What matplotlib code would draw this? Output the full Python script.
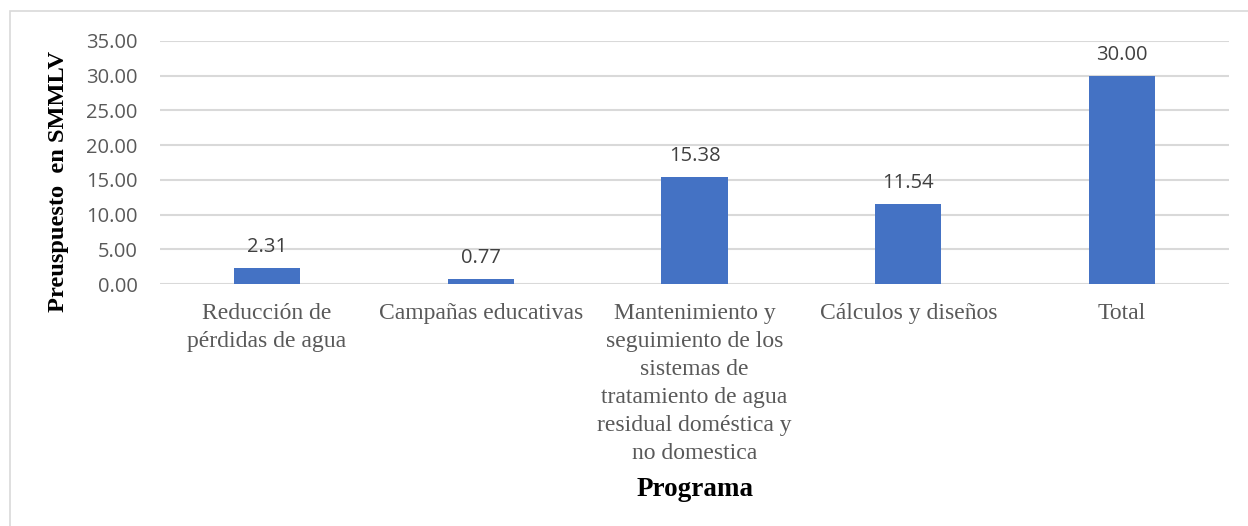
import matplotlib
matplotlib.use("Agg")
from matplotlib import pyplot as plt
from matplotlib.patches import Rectangle

categorias = ["Reducción de\npérdidas de agua",
              "Campañas educativas",
              "Mantenimiento y\nseguimiento de los\nsistemas de\ntratamiento de agua\nresidual doméstica y\nno domestica",
              "Cálculos y diseños",
              "Total"]
valores = [2.31, 0.77, 15.38, 11.54, 30.00]
yticks = [0, 5, 10, 15, 20, 25, 30, 35]

W, H = 1248, 526
fig = plt.figure(figsize=(W / 100, H / 100), dpi=100)

# outer chart border (Excel style)
fig.patches.append(Rectangle((10 / W, -0.1), 1.2, 1 - 11 / H + 0.1,
                             transform=fig.transFigure, fill=False,
                             edgecolor="#d9d9d9", linewidth=1.2))

ax = fig.add_axes([160 / W, 1 - 284 / H, (1229 - 160) / W, (284 - 41) / H])
x = range(len(categorias))
ax.bar(x, valores, width=0.31, color="#4472c4", zorder=3)
ax.set_xlim(-0.5, len(categorias) - 0.5)
ax.set_ylim(0, 35)
ax.set_yticks(yticks)
ax.set_yticklabels(["%.2f" % v for v in yticks], fontfamily="Open Sans",
                   fontsize=14.5, color="#595959")
ax.set_xticks(list(x))
ax.set_xticklabels(categorias, fontfamily="Liberation Serif", fontsize=17,
                   color="#595959", linespacing=1.43, va="top")
ax.tick_params(axis="both", length=0)
ax.tick_params(axis="y", pad=16)
ax.tick_params(axis="x", pad=14)
ax.grid(axis="y", color="#d9d9d9", linewidth=1.5, zorder=0)
for s in ax.spines.values():
    s.set_visible(False)

for i, v in enumerate(valores):
    ax.annotate("%.2f" % v, (i, v), xytext=(0, 8), textcoords="offset points",
                ha="center", va="bottom", fontfamily="Open Sans",
                fontsize=14.5, color="#404040")

fig.text(59 / W, 1 - 181 / H, "Preuspuesto  en SMMLV", rotation=90,
         ha="center", va="center", fontfamily="Liberation Serif",
         fontweight="bold", fontsize=17.6, color="black")
fig.text(695 / W, 1 - 490 / H, "Programa", ha="center", va="center",
         fontfamily="Liberation Serif", fontweight="bold", fontsize=19.5,
         color="black")

fig.savefig("out.png", dpi=100)
